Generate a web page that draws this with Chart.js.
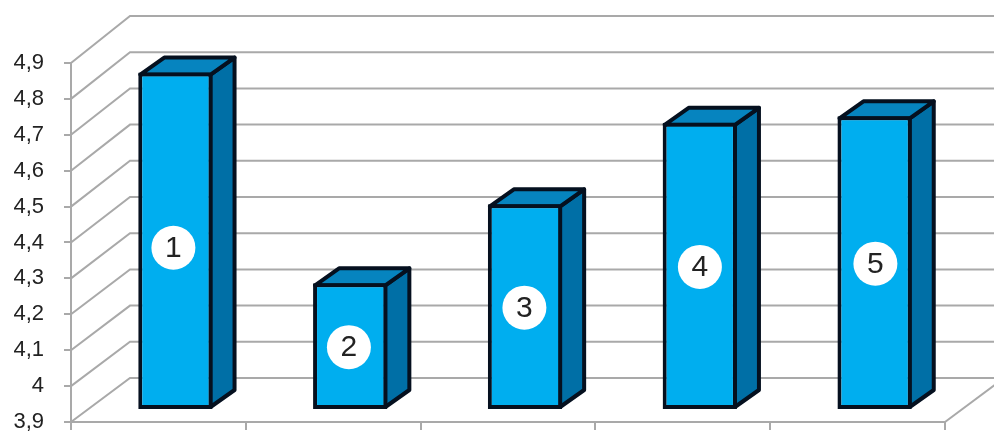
<!DOCTYPE html>
<html>
<head>
<meta charset="utf-8">
<style>
  html, body { margin: 0; padding: 0; background: #fff; overflow: hidden; }
  #wrap { width: 994px; height: 433px; }
</style>
<script src="https://cdn.jsdelivr.net/npm/chart.js@4"></script>
</head>
<body>
<div id="wrap"><canvas id="chart"></canvas></div>
<script>
const categories = ["1", "2", "3", "4", "5"];
const values = [4.84, 4.253, 4.473, 4.70, 4.718];
const yTicks = ["3,9", "4", "4,1", "4,2", "4,3", "4,4", "4,5", "4,6", "4,7", "4,8", "4,9"];
const yMin = 3.9, yMax = 4.9;

const GRID = "#a9a9a9";
const EDGE = "#05101f";
const EDGE_W = 4;
// depth of the 3d box: back wall offset, bar position inside it, bar's own depth
const WALL_DX = 59, WALL_DY = 44, WALL_SPREAD = 3;
const BAR_DX = 17, BAR_DY = 12;
const SIDE_DX = 24, SIDE_DY = 17;

function poly(ctx, pts, fill){
  ctx.beginPath();
  pts.forEach((p, i) => i ? ctx.lineTo(p[0], p[1]) : ctx.moveTo(p[0], p[1]));
  ctx.closePath();
  ctx.fillStyle = fill;
  ctx.fill();
  ctx.stroke();
}

const box3d = {
  id: "box3d",
  beforeDatasetsDraw(chart){
    const { ctx, chartArea: a, scales: { y } } = chart;
    // walls
    ctx.save();
    ctx.strokeStyle = GRID;
    ctx.lineWidth = 2;
    y.ticks.forEach(t => {
      const py = y.getPixelForValue(t.value);
      const back = py - WALL_DY - WALL_SPREAD * (a.bottom - py) / a.height;
      ctx.beginPath();
      ctx.moveTo(a.left, py);
      ctx.lineTo(a.left + WALL_DX, back);
      ctx.lineTo(a.right + WALL_DX, back);
      ctx.stroke();
    });
    ctx.beginPath();
    ctx.moveTo(a.right, a.bottom);
    ctx.lineTo(a.right + WALL_DX, a.bottom - WALL_DY);
    ctx.stroke();
    ctx.restore();

    // side and top faces, then the library's bars on top of them
    ctx.save();
    ctx.translate(BAR_DX, -BAR_DY);
    ctx.strokeStyle = EDGE;
    ctx.lineWidth = EDGE_W;
    ctx.lineJoin = "round";
    chart.getDatasetMeta(0).data.forEach(bar => {
      const inset = EDGE_W / 2;
      const l = bar.x - bar.width / 2 + inset, r = bar.x + bar.width / 2 - inset;
      const top = bar.y + inset, base = bar.base - inset;
      poly(ctx, [[r, top], [r + SIDE_DX, top - SIDE_DY], [r + SIDE_DX, base - SIDE_DY], [r, base]], "#006fa6");
      poly(ctx, [[l, top], [l + SIDE_DX, top - SIDE_DY], [r + SIDE_DX, top - SIDE_DY], [r, top]], "#0684bf");
    });
  },
  afterDatasetsDraw(chart){
    const { ctx } = chart;
    ctx.restore();
    // number badges
    ctx.save();
    ctx.textAlign = "center";
    ctx.textBaseline = "middle";
    ctx.font = "30px 'Liberation Sans'";
    chart.getDatasetMeta(0).data.forEach((bar, i) => {
      const cx = bar.x + BAR_DX - 2 + i * 0.7;
      const cy = (bar.y + bar.base) / 2 - BAR_DY + (i === 0 ? 7 : 1);
      ctx.beginPath();
      ctx.arc(cx, cy, 22, 0, Math.PI * 2);
      ctx.fillStyle = "#fff";
      ctx.fill();
      ctx.fillStyle = "#222";
      ctx.fillText(categories[i], cx, cy + 1);
    });
    ctx.restore();
  }
};

// keep the plot box where the picture has it, whatever the labels overhang
function noOverhang(s){
  s.paddingTop = s.paddingBottom = s.paddingLeft = s.paddingRight = 0;
}

new Chart(document.getElementById("chart"), {
  type: "bar",
  plugins: [box3d],
  data: {
    labels: categories,
    datasets: [{
      data: values,
      base: yMin,
      backgroundColor: "#00aeef",
      borderColor: EDGE,
      borderWidth: EDGE_W,
      borderSkipped: false,
      clip: false,
      barPercentage: 0.425,
      categoryPercentage: 1
    }]
  },
  options: {
    responsive: true,
    maintainAspectRatio: false,
    animation: false,
    layout: { padding: { top: 63, right: 49, left: 0, bottom: 0 } },
    plugins: { legend: { display: false }, tooltip: { enabled: false } },
    scales: {
      x: {
        afterFit: s => { s.height = 11; noOverhang(s); },
        grid: { drawOnChartArea: false, color: GRID, lineWidth: 2, tickLength: 8 },
        border: { color: GRID, width: 2 },
        ticks: { display: false }
      },
      y: {
        min: yMin,
        max: yMax,
        afterFit: s => { s.width = 71; noOverhang(s); },
        grid: { drawOnChartArea: false, color: GRID, lineWidth: 2, tickLength: 7 },
        border: { color: GRID, width: 2 },
        ticks: {
          stepSize: 0.1,
          padding: 20,
          color: "#222",
          font: { family: "'Liberation Sans'", size: 22 },
          callback: (v, i) => yTicks[i]
        }
      }
    }
  }
});
</script>
</body>
</html>
